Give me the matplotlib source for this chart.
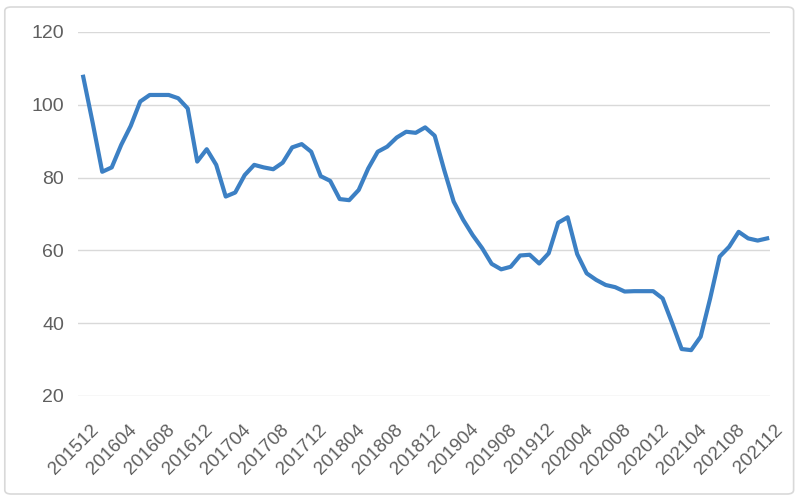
"""Monthly index line chart, 201512-202112."""

import matplotlib
matplotlib.use("Agg")
import matplotlib.pyplot as plt
import matplotlib.transforms as mtransforms
from matplotlib.patches import FancyBboxPatch

plt.rcParams["font.family"] = ["Liberation Sans", "DejaVu Sans"]

# month labels 201512 .. 202112
MONTHS = [f"{y}{m:02d}" for y in range(2015, 2022) for m in range(1, 13)]
MONTHS = MONTHS[MONTHS.index("201512"):MONTHS.index("202112") + 1]

VALUES = [
    107.7, 95.0, 81.6, 82.8, 89.0, 94.2, 100.9, 102.7, 102.7, 102.7,
    101.8, 99.0, 84.4, 87.8, 83.5, 74.8, 75.9, 80.7, 83.5, 82.8,
    82.3, 84.1, 88.3, 89.2, 87.1, 80.4, 79.1, 74.1, 73.8, 76.6,
    82.5, 87.1, 88.5, 91.0, 92.6, 92.3, 93.8, 91.5, 82.1, 73.4,
    68.4, 64.2, 60.6, 56.3, 54.8, 55.5, 58.6, 58.8, 56.4, 59.2,
    67.6, 69.1, 59.0, 53.7, 51.9, 50.5, 49.9, 48.7, 48.8, 48.8,
    48.8, 46.8, 40.0, 32.9, 32.6, 36.3, 46.8, 58.3, 61.0, 65.1,
    63.3, 62.7, 63.3,
]

YTICKS = [20, 40, 60, 80, 100, 120]
LINE_COLOR = "#3c80c4"
TEXT_COLOR = "#5f5f5f"
GRID_COLOR = "#d9d9d9"

fig = plt.figure(figsize=(8, 5), dpi=100)
ax = fig.add_axes([0.0975, 0.208, 0.865, 0.728])

x = list(range(len(VALUES)))
ax.plot(x, VALUES, color=LINE_COLOR, lw=3.0, solid_joinstyle="round", zorder=3)

ax.set_ylim(20, 120)
ax.set_xlim(-0.55, len(VALUES) - 1 + 0.3)
ax.set_yticks(YTICKS)
ax.grid(axis="y", color=GRID_COLOR, lw=1.0)
ax.set_axisbelow(True)
for s in ax.spines.values():
    s.set_visible(False)

ticks = x[::4]
ax.set_xticks(ticks)
ax.set_xticklabels([MONTHS[i] for i in ticks], rotation=45, ha="right",
                   va="top", rotation_mode="anchor")
ax.tick_params(axis="both", length=0, colors=TEXT_COLOR)
ax.tick_params(axis="y", pad=10, labelsize=14)
ax.tick_params(axis="x", pad=18, labelsize=13.5)
shift = mtransforms.ScaledTranslation(7 / 100, 0, fig.dpi_scale_trans)
for lbl in ax.get_xticklabels():
    lbl.set_transform(lbl.get_transform() + shift)

# light outer frame
frame = FancyBboxPatch((0.006, 0.012), 0.986, 0.974, transform=fig.transFigure,
                       boxstyle="round,pad=0,rounding_size=0.008",
                       fill=False, ec="#d9d9d9", lw=1.2)
fig.patches.append(frame)

fig.savefig("out.png", dpi=100)
